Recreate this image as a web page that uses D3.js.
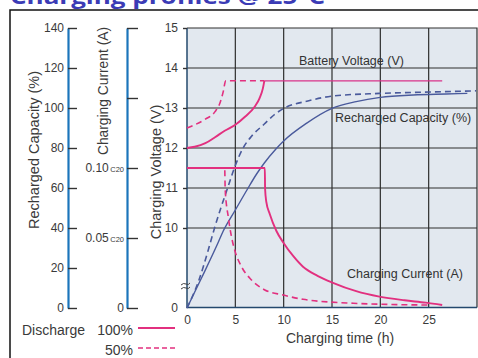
<!DOCTYPE html>
<html>
<head>
<meta charset="utf-8">
<script src="https://cdn.jsdelivr.net/npm/d3@7"></script>
<style>
  body { margin: 0; background: #fff; }
  svg { display: block; font-family: "Liberation Sans", Arial, sans-serif; }
  .tick line { stroke: #333; stroke-width: 1.4; }
  .tick text { fill: #3a3a3a; font-size: 12px; }
</style>
</head>
<body>
<div id="chart"></div>
<script>
// charging time (h) / value pairs
var volt100 = [[0, 12.0], [0.8, 12.03], [1.9, 12.12], [2.9, 12.27], [3.9, 12.43], [5.0, 12.58],
  [6.0, 12.78], [7.0, 13.03], [7.5, 13.24], [7.85, 13.49], [8.0, 13.68]];
var volt100Flat = [[8.0, 13.68], [26.4, 13.68]];
var volt50 = [[0, 12.5], [0.8, 12.58], [1.9, 12.72], [2.9, 12.91], [3.4, 13.12], [3.75, 13.41],
  [4.0, 13.68], [8.0, 13.68]];
var cur100 = [[0, 0.1], [8.05, 0.1], [8.08, 0.085], [8.2, 0.076], [8.57, 0.067], [9.25, 0.055],
  [9.94, 0.047], [11, 0.037], [12, 0.0295], [13.5, 0.023], [15.1, 0.018], [17.5, 0.012],
  [19.9, 0.0081], [22.5, 0.0055], [24.7, 0.0038], [26.4, 0.0021]];
var cur50 = [[0, 0.1], [3.9, 0.1], [3.95, 0.085], [4.27, 0.065], [4.6, 0.051], [4.95, 0.041],
  [5.64, 0.0295], [6.67, 0.02], [8.05, 0.0129], [9.94, 0.0093], [12, 0.0062], [17.2, 0.0034],
  [25, 0.0021]];
var cap100 = [[0, 0], [1.5, 15], [3.2, 32.5], [3.75, 38.5], [5, 49], [6.2, 59], [7.2, 67], [8, 72.5],
  [9.2, 79.5], [10, 83.5], [12.35, 92.3], [15, 99.8], [17.5, 103.2], [20, 105.3], [23.4, 106.5],
  [26.8, 107], [29, 107.3]];
var cap50 = [[0, 0], [1.2, 13.5], [2.2, 29], [2.85, 40], [3.5, 50], [4.2, 60], [4.9, 70], [5.8, 80],
  [6.7, 86], [8, 92], [9, 96.5], [10, 99.8], [12.5, 103.5], [15.1, 106], [19.9, 107.3],
  [25.1, 108], [29.9, 108.6]];

var timeTicks = [0, 5, 10, 15, 20, 25];
var voltTicks = [10, 11, 12, 13, 14, 15];
var capTicks = [0, 20, 40, 60, 80, 100, 120, 140];
var curTicks = [0, 0.05, 0.1, 0.15, 0.2];
var curLabels = {"0": "0", "0.05": "0.05", "0.1": "0.10"};

var width = 478, height = 358;
var pink = "#e2307f", slate = "#4a5a9c", axisBlue = "#1b75bb";
var plot = {left: 187, right: 477, top: 28, bottom: 307.5};

var svg = d3.select("#chart").append("svg")
  .attr("width", width)
  .attr("height", height);

// title, cut off at the top like the reference
svg.append("text")
  .attr("x", 10).attr("y", 4)
  .attr("font-family", "'Open Sans', sans-serif")
  .attr("font-weight", "bold")
  .attr("font-size", 22)
  .attr("fill", "#3b3bb5")
  .attr("textLength", 315)
  .attr("lengthAdjust", "spacingAndGlyphs")
  .text("Charging profiles @ 25°C");

// frame
svg.append("path")
  .attr("d", "M10," + height + "V10H" + width)
  .attr("fill", "none").attr("stroke", "#111").attr("stroke-width", 1.5);

var x = d3.scaleLinear().domain([0, 30]).range([plot.left, plot.right]);
var yV = d3.scaleLinear().domain([10, 15]).range([228, 28]);
var yC = d3.scaleLinear().domain([0, 140]).range([308, 28]);
var yI = d3.scaleLinear().domain([0, 0.2]).range([308, 28]);

// plot background and grid
svg.append("rect")
  .attr("x", plot.left).attr("y", plot.top)
  .attr("width", plot.right - plot.left).attr("height", plot.bottom - plot.top)
  .attr("fill", "#e2e8ef");

svg.append("g").selectAll("line")
  .data(timeTicks.slice(1))
  .enter().append("line")
  .attr("x1", function (d) { return x(d); }).attr("x2", function (d) { return x(d); })
  .attr("y1", plot.top).attr("y2", plot.bottom)
  .attr("stroke", "#2e2e2e").attr("stroke-width", 1.2);

svg.append("g").selectAll("line")
  .data(voltTicks.slice(0, -1))
  .enter().append("line")
  .attr("x1", plot.left).attr("x2", plot.right)
  .attr("y1", function (d) { return yV(d); }).attr("y2", function (d) { return yV(d); })
  .attr("stroke", "#2e2e2e").attr("stroke-width", 1.2);

svg.append("path")
  .attr("d", "M" + plot.left + "," + plot.top + "H" + plot.right + "V" + plot.bottom)
  .attr("fill", "none").attr("stroke", "#2e2e2e").attr("stroke-width", 1.2);
svg.append("path")
  .attr("d", "M" + plot.left + "," + plot.top + "V" + plot.bottom + "H" + plot.right)
  .attr("fill", "none").attr("stroke", "#24496e").attr("stroke-width", 1.5);

// axes
var gV = svg.append("g")
  .attr("transform", "translate(" + plot.left + ",0)")
  .call(d3.axisLeft(yV).tickValues(voltTicks).tickFormat(d3.format("d"))
    .tickSize(4).tickPadding(5).tickSizeOuter(0));
gV.select(".domain").remove();
svg.append("text")
  .attr("x", 178).attr("y", 312)
  .attr("text-anchor", "end").attr("font-size", 12).attr("fill", "#3a3a3a")
  .text("0");

// axis break mark
svg.append("path")
  .attr("d", "M181,285 q2.5,-2.5 5,-1 t4,-1 M181,289 q2.5,-2.5 5,-1 t4,-1")
  .attr("fill", "none").attr("stroke", "#444").attr("stroke-width", 1);

var gX = svg.append("g")
  .attr("transform", "translate(0," + plot.bottom + ")")
  .call(d3.axisBottom(x).tickValues(timeTicks).tickSize(0).tickPadding(8));
gX.select(".domain").remove();

var gC = svg.append("g")
  .attr("transform", "translate(68,0)")
  .call(d3.axisRight(yC).tickValues(capTicks).tickSize(9).tickSizeOuter(0));
gC.select(".domain").attr("stroke", axisBlue).attr("stroke-width", 2.2);
gC.selectAll(".tick text").attr("x", -4).attr("text-anchor", "end");

var gI = svg.append("g")
  .attr("transform", "translate(127,0)")
  .call(d3.axisRight(yI).tickValues(curTicks).tickSize(11).tickSizeOuter(0)
    .tickFormat(function (d) { return curLabels[String(d)] || ""; }));
gI.select(".domain").attr("stroke", axisBlue).attr("stroke-width", 2.2);
gI.selectAll(".tick text").attr("x", -3).attr("text-anchor", "end")
  .filter(function (d) { return d === 0.05 || d === 0.1; })
  .append("tspan").attr("font-size", 7.5).attr("dx", 1.5).text("C20");

// axis titles
function vtitle(tx, ty, size, label) {
  svg.append("text")
    .attr("transform", "translate(" + tx + "," + ty + ") rotate(-90)")
    .attr("text-anchor", "middle")
    .attr("font-size", size).attr("fill", "#3a3a3a")
    .text(label);
}
vtitle(39, 150, 14.5, "Recharged Capacity (%)");
vtitle(108, 91, 13.8, "Charging Current (A)");
vtitle(161, 172, 14.5, "Charging Voltage (V)");

svg.append("text")
  .attr("x", 340).attr("y", 343)
  .attr("text-anchor", "middle").attr("font-size", 14).attr("fill", "#3a3a3a")
  .text("Charging time (h)");

// curves
var lineV = d3.line().x(function (d) { return x(d[0]); }).y(function (d) { return yV(d[1]); })
  .curve(d3.curveMonotoneX);
var lineC = d3.line().x(function (d) { return x(d[0]); }).y(function (d) { return yC(d[1]); })
  .curve(d3.curveMonotoneX);
var lineI = d3.line().x(function (d) { return x(d[0]); }).y(function (d) { return yI(d[1]); })
  .curve(d3.curveMonotoneX);

function draw(gen, data, color, w, dash) {
  svg.append("path")
    .datum(data)
    .attr("d", gen)
    .attr("fill", "none")
    .attr("stroke", color)
    .attr("stroke-width", w)
    .attr("stroke-dasharray", dash || null);
}
draw(lineC, cap50, slate, 1.6, "6,4");
draw(lineC, cap100, slate, 1.4);
draw(lineI, cur50, pink, 1.6, "6,4");
draw(lineI, cur100, pink, 1.9);
draw(lineV, volt50, pink, 1.6, "6,4");
draw(lineV, volt100Flat, "#d8338a", 1.2);
draw(lineV, volt100, pink, 1.9);

// curve labels
function label(tx, ty, txt) {
  svg.append("text")
    .attr("x", tx).attr("y", ty)
    .attr("font-size", 12.5).attr("fill", "#333")
    .text(txt);
}
label(299, 65, "Battery Voltage (V)");
label(335, 122, "Recharged Capacity (%)");
label(347, 278, "Charging Current (A)");

// legend
svg.append("text").attr("x", 22).attr("y", 335)
  .attr("font-size", 14).attr("fill", "#3a3a3a").text("Discharge");
svg.append("text").attr("x", 133).attr("y", 335)
  .attr("text-anchor", "end").attr("font-size", 14).attr("fill", "#3a3a3a").text("100%");
svg.append("text").attr("x", 133).attr("y", 355)
  .attr("text-anchor", "end").attr("font-size", 14).attr("fill", "#3a3a3a").text("50%");
svg.append("line").attr("x1", 138).attr("x2", 175).attr("y1", 328).attr("y2", 328)
  .attr("stroke", pink).attr("stroke-width", 1.9);
svg.append("line").attr("x1", 138).attr("x2", 175).attr("y1", 348).attr("y2", 348)
  .attr("stroke", pink).attr("stroke-width", 1.6).attr("stroke-dasharray", "5,3");
</script>
</body>
</html>
